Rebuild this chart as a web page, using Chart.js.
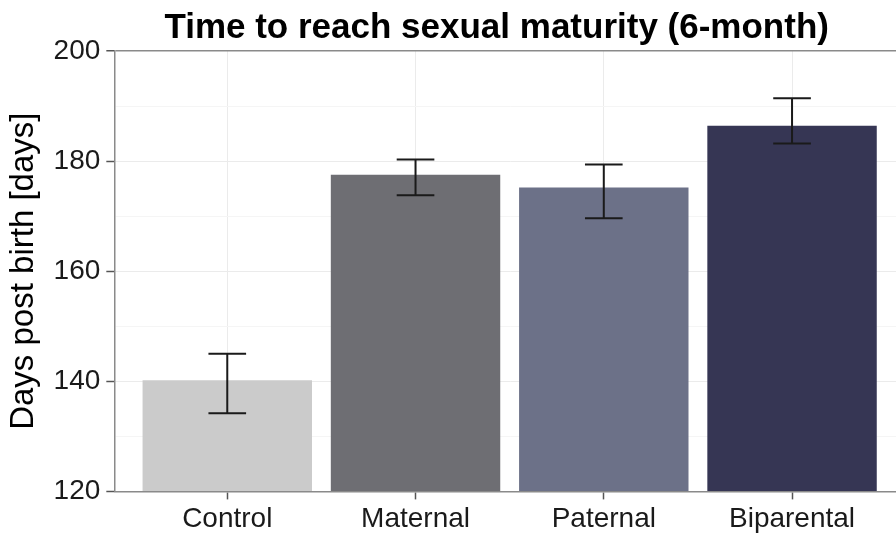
<!DOCTYPE html>
<html lang="en">
<head>
    <meta charset="UTF-8">
    <title>Time to reach sexual maturity</title>
    <script src="https://cdn.jsdelivr.net/npm/chart.js"></script>
    <style>
        html, body { margin: 0; padding: 0; background: #fff; overflow: hidden; }
        /* panel runs a little past the right edge of the window */
        #wrap { width: 910px; height: 536px; }
    </style>
</head>
<body>
<div id="wrap"><canvas id="maturity-chart"></canvas></div>

<script>
    const chartTitle = 'Time to reach sexual maturity (6-month)';
    const yAxisTitle = 'Days post birth [days]';

    const groups = ['Control', 'Maternal', 'Paternal', 'Biparental'];
    const meanDays = [140.2, 177.5, 175.2, 186.4];
    const lowerDays = [134.2, 173.8, 169.6, 183.2];
    const upperDays = [145.0, 180.3, 179.4, 191.4];
    const barColors = ['#cbcbcb', '#6e6e73', '#6c7188', '#363654'];

    const yTicks = [120, 140, 160, 180, 200];

    Chart.defaults.font.family = "'Liberation Sans', Arial, sans-serif";

    // error bars, drawn on top of the bars through the chart scales
    const errorBars = {
        id: 'errorBars',
        afterDatasetsDraw(chart) {
            const x = chart.scales.x, y = chart.scales.y, ctx = chart.ctx;
            ctx.save();
            ctx.strokeStyle = '#1a1a1a';
            ctx.lineWidth = 2;
            groups.forEach((g, i) => {
                const cx = x.getPixelForValue(i + 1);
                const x0 = x.getPixelForValue(i + 0.9), x1 = x.getPixelForValue(i + 1.1);
                const lo = y.getPixelForValue(lowerDays[i]), hi = y.getPixelForValue(upperDays[i]);
                ctx.beginPath();
                ctx.moveTo(cx, lo); ctx.lineTo(cx, hi);
                ctx.moveTo(x0, lo); ctx.lineTo(x1, lo);
                ctx.moveTo(x0, hi); ctx.lineTo(x1, hi);
                ctx.stroke();
            });
            ctx.restore();
        }
    };

    // bold title over the panel
    const plotTitle = {
        id: 'plotTitle',
        afterDraw(chart) {
            const ctx = chart.ctx, area = chart.chartArea;
            ctx.save();
            ctx.font = "bold 35px 'Liberation Sans', Arial, sans-serif";
            ctx.fillStyle = '#000';
            ctx.textAlign = 'center';
            ctx.textBaseline = 'alphabetic';
            ctx.fillText(chartTitle, (area.left + area.right) / 2 - 13, 38);
            ctx.restore();
        }
    };

    new Chart(document.getElementById('maturity-chart'), {
        type: 'bar',
        data: {
            datasets: [{
                data: meanDays.map((v, i) => ({ x: i + 1, y: v })),
                backgroundColor: barColors,
                base: 120,
                barPercentage: 0.9,
                categoryPercentage: 1.0
            }]
        },
        options: {
            responsive: true,
            maintainAspectRatio: false,
            animation: false,
            layout: { padding: { top: 51, right: 5, left: 4, bottom: -3 } },
            plugins: {
                legend: { display: false },
                tooltip: { enabled: false }
            },
            scales: {
                x: {
                    type: 'linear',
                    min: 0.4,
                    max: 4.6,
                    offset: false,
                    afterBuildTicks: axis => {
                        axis.ticks = groups.map((g, i) => ({ value: i + 1 }));
                    },
                    ticks: {
                        callback: v => groups[v - 1],
                        color: '#1a1a1a',
                        font: { size: 28 },
                        padding: 3,
                        maxRotation: 0,
                        autoSkip: false
                    },
                    grid: { offset: false, color: '#ebebeb', lineWidth: 1, tickLength: 8, tickColor: '#555', tickWidth: 1.5 },
                    border: { color: '#8a8a8a', width: 1.5 }
                },
                y: {
                    min: 120,
                    max: 200,
                    afterBuildTicks: axis => {
                        const t = [];
                        for (let v = 120; v <= 200; v += 10) t.push({ value: v });
                        axis.ticks = t;
                    },
                    ticks: {
                        callback: v => yTicks.includes(v) ? v : '',
                        color: '#1a1a1a',
                        font: { size: 28 },
                        padding: 6,
                        autoSkip: false
                    },
                    grid: {
                        color: c => c.tick.value === 200 ? '#8a8a8a' : (c.tick.value % 20 === 0 ? '#ebebeb' : '#f5f5f5'),
                        lineWidth: c => c.tick.value === 200 ? 1.5 : 1,
                        tickLength: 8,
                        tickColor: c => c.tick.value % 20 === 0 ? '#555' : 'rgba(0,0,0,0)',
                        tickWidth: 1.5
                    },
                    border: { color: '#8a8a8a', width: 1.5 },
                    title: {
                        display: true,
                        text: yAxisTitle,
                        color: '#000',
                        font: { size: 33 },
                        padding: { top: 0, bottom: 4 }
                    }
                }
            }
        },
        plugins: [errorBars, plotTitle]
    });
</script>
</body>
</html>
